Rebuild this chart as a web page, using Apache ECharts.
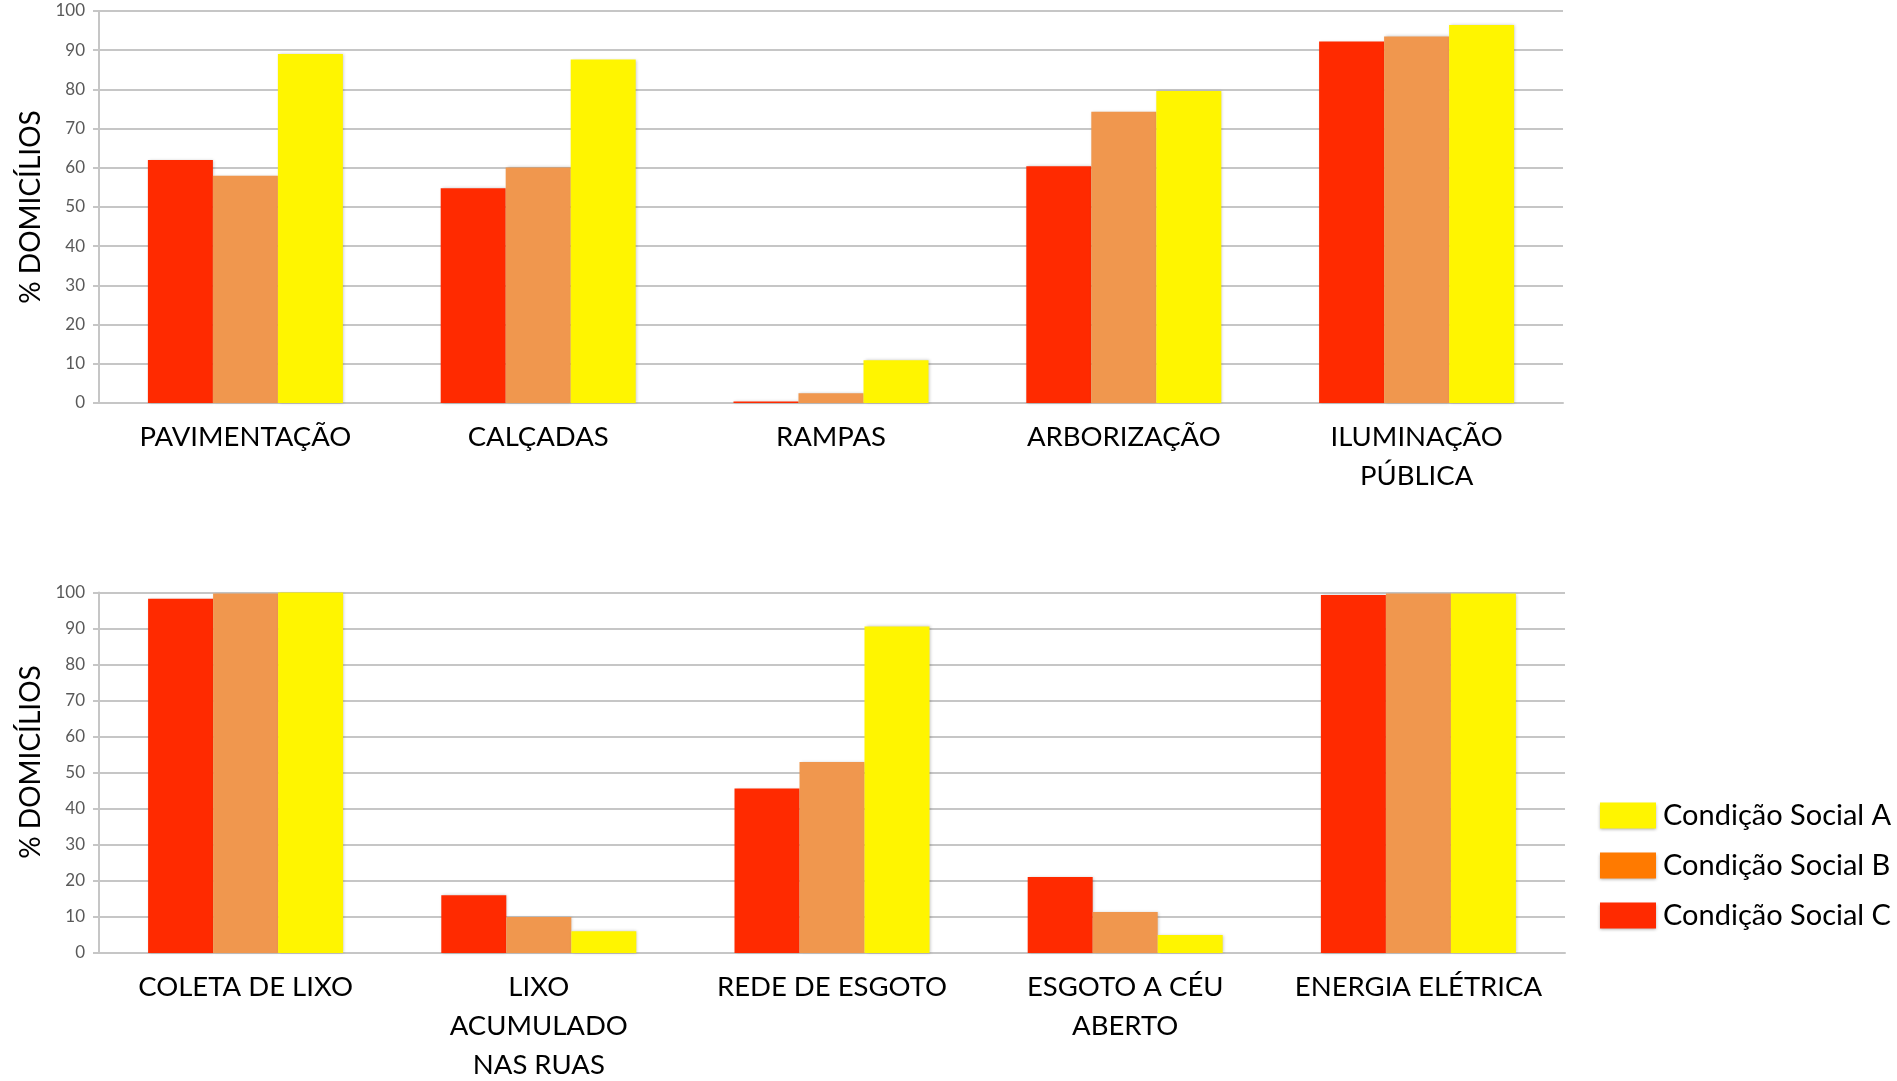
<!DOCTYPE html>
<html>
<head>
<meta charset="utf-8">
<script src="https://cdn.jsdelivr.net/npm/echarts@6/dist/echarts.min.js"></script>
<style>
  html, body { margin: 0; padding: 0; background: #ffffff; }
  #chart { width: 1897px; height: 1081px; }
</style>
</head>
<body>
<div id="chart"></div>
<script>
// Infrastructure indicators by social condition (% of households)
const categoriesTop = ['PAVIMENTAÇÃO', 'CALÇADAS', 'RAMPAS', 'ARBORIZAÇÃO', 'ILUMINAÇÃO\nPÚBLICA'];
const topSocialC = [62, 54.8, 0.4, 60.4, 92.2];
const topSocialB = [58, 60.1, 2.5, 74.3, 93.5];
const topSocialA = [89, 87.6, 10.9, 79.6, 96.4];

const categoriesBottom = ['COLETA DE LIXO', 'LIXO\nACUMULADO\nNAS RUAS', 'REDE DE ESGOTO', 'ESGOTO A CÉU\nABERTO', 'ENERGIA ELÉTRICA'];
const bottomSocialC = [98.3, 16, 45.6, 21.1, 99.3];
const bottomSocialB = [99.7, 10, 53, 11.4, 99.7];
const bottomSocialA = [100, 6, 90.6, 5, 99.7];

const yTicks = [0, 10, 20, 30, 40, 50, 60, 70, 80, 90, 100];
const seriesNames = ['Condição Social C', 'Condição Social B', 'Condição Social A'];
const yTitle = '% DOMICÍLIOS';

const barColors = ['#ff2a00', '#f0974e', '#fff500'];
const legendColors = { 'Condição Social A': '#fff500', 'Condição Social B': '#ff7a00', 'Condição Social C': '#ff2a00' };

const FONT = 'Lato';
const gridLine = '#c6c6c6';

function xAxisFor(gridIndex, cats) {
  return {
    type: 'category', gridIndex, data: cats,
    axisLine: { lineStyle: { color: gridLine, width: 2 } },
    axisTick: { show: false },
    axisLabel: { interval: 0, color: '#000', fontFamily: FONT, fontSize: 27.5, lineHeight: 39, margin: 15 }
  };
}
function yAxisFor(gridIndex) {
  return {
    type: 'value', gridIndex, min: yTicks[0], max: yTicks[yTicks.length - 1], interval: yTicks[1] - yTicks[0],
    axisLine: { show: true, lineStyle: { color: gridLine, width: 2 } },
    axisTick: { show: true, length: 6, lineStyle: { color: gridLine, width: 2 } },
    splitLine: { lineStyle: { color: gridLine, width: 2 } },
    axisLabel: { color: '#595959', fontFamily: FONT, fontSize: 17, margin: 14 }
  };
}
function barsFor(gridIndex, values) {
  return values.map((vals, i) => ({
    name: seriesNames[i], type: 'bar', xAxisIndex: gridIndex, yAxisIndex: gridIndex,
    data: vals, barWidth: 65, barGap: '0%',
    itemStyle: { color: barColors[i], shadowBlur: 3, shadowColor: 'rgba(0,0,0,0.22)', shadowOffsetX: 1 },
    animation: false
  }));
}

const chart = echarts.init(document.getElementById('chart'), null, { renderer: 'canvas' });
chart.setOption({
  backgroundColor: '#ffffff',
  animation: false,
  grid: [
    { left: 99, top: 11, width: 1464, height: 392, outerBoundsMode: 'none', containLabel: false },
    { left: 99, top: 592.5, width: 1466, height: 360.5, outerBoundsMode: 'none', containLabel: false }
  ],
  xAxis: [xAxisFor(0, categoriesTop), xAxisFor(1, categoriesBottom)],
  yAxis: [yAxisFor(0), yAxisFor(1)],
  legend: {
    orient: 'vertical', left: 1595, top: 796,
    itemWidth: 56, itemHeight: 26, itemGap: 21,
    icon: 'rect',
    textStyle: { fontFamily: FONT, fontSize: 29, color: '#000', padding: [0, 0, 0, 2] },
    data: ['Condição Social A', 'Condição Social B', 'Condição Social C'].map(n => ({
      name: n, itemStyle: { color: legendColors[n], shadowBlur: 3, shadowColor: 'rgba(0,0,0,0.3)', shadowOffsetY: 1 }
    }))
  },
  graphic: [
    { type: 'text', x: 31, y: 207, rotation: Math.PI / 2,
      style: { text: yTitle, font: '28px ' + FONT, fill: '#000', textAlign: 'center', textVerticalAlign: 'middle' } },
    { type: 'text', x: 31, y: 762, rotation: Math.PI / 2,
      style: { text: yTitle, font: '28px ' + FONT, fill: '#000', textAlign: 'center', textVerticalAlign: 'middle' } }
  ],
  series: [
    ...barsFor(0, [topSocialC, topSocialB, topSocialA]),
    ...barsFor(1, [bottomSocialC, bottomSocialB, bottomSocialA])
  ]
});
</script>
</body>
</html>
